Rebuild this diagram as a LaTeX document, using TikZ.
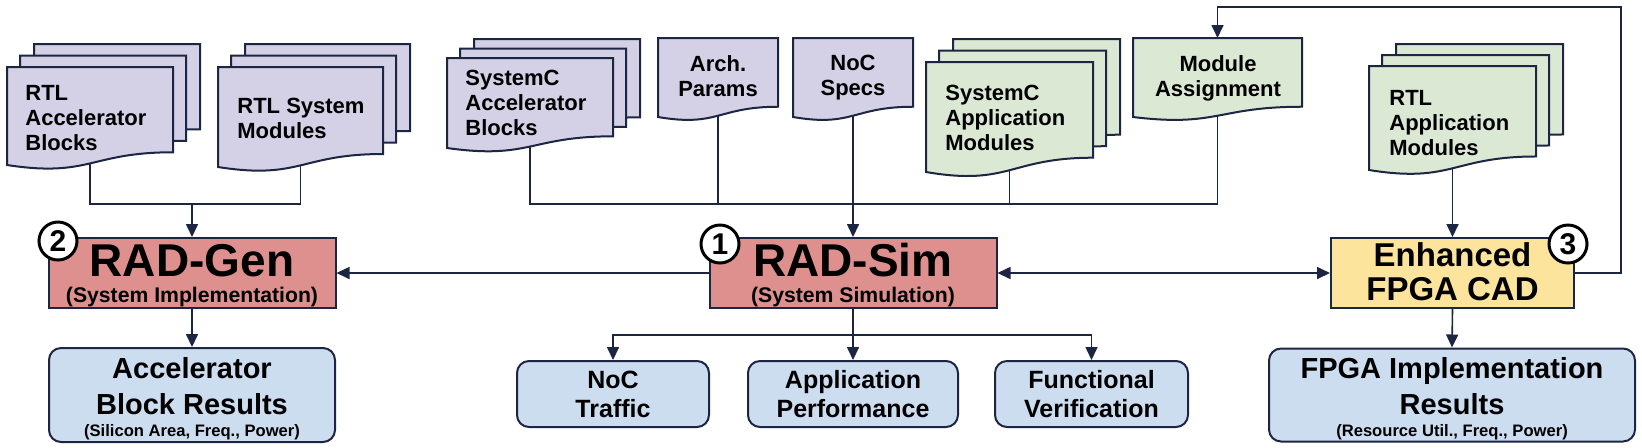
\documentclass[tikz,border=0pt]{standalone}
\usepackage{fontspec}
\setmainfont{Liberation Sans}
\usetikzlibrary{arrows.meta}

% one page: x, y, width, height, fill
\newcommand{\docpage}[5]{%
  \pgfmathsetmacro{\pxl}{#1}
  \pgfmathsetmacro{\pxr}{#1+#3}
  \pgfmathsetmacro{\pxm}{#1+0.5*#3}
  \pgfmathsetmacro{\pyt}{#2}
  \pgfmathsetmacro{\pyr}{#2+0.87*#4}
  \pgfmathsetmacro{\pyc}{#2+1.13*#4}
  \pgfmathsetmacro{\pyl}{#2+#4}
  \draw[docline, fill=#5] (\pxl,\pyt) -- (\pxr,\pyt) -- (\pxr,\pyr)
    .. controls (\pxm,\pyr) and (\pxm,\pyc) .. (\pxl,\pyl) -- cycle;
}
% single document: name, x, y, width, height, fill
\newcommand{\docsingle}[6]{%
  \docpage{#2}{#3}{#4}{#5}{#6}
  \coordinate (#1-in) at (#2+0.5*#4,#3);
  \coordinate (#1-out) at (#2+0.5*#4,#3+0.984*#5);
}
% stack of three documents: name, x, y, width, height, fill, shift up
\newcommand{\docstack}[7]{%
  \docpage{#2+27}{#3-2*#7}{#4}{#5}{#6}
  \docpage{#2+13}{#3-#7}{#4}{#5}{#6}
  \docsingle{#1}{#2}{#3}{#4}{#5}{#6}
}

\begin{document}
\begin{tikzpicture}[x=0.5pt, y=-0.5pt,
  docline/.style={draw=lineNavy, line width=1pt},
  link/.style={draw=lineNavy, line width=0.8pt},
  flow/.style={link, -{Triangle[length=6.5pt,width=6pt]}},
  doctext/.style={inner sep=0, font=\fontsize{11}{12.5}\selectfont\bfseries},
  toolbox/.style={draw=lineNavy, line width=1pt, inner sep=0,
    minimum width=143.5pt, minimum height=35pt},
  tooltitle/.style={inner sep=0, font=\fontsize{23}{23}\selectfont\bfseries},
  toolsub/.style={inner sep=0, font=\fontsize{10.6}{11}\selectfont\bfseries},
  resbox/.style={draw=lineNavy, line width=1pt, rounded corners=6pt,
    fill=resBlue, inner sep=0, align=center,
    font=\fontsize{12.5}{14.5}\selectfont\bfseries},
  restitle/.style={inner sep=0, align=center, font=\fontsize{14.5}{18}\selectfont\bfseries},
  ressub/.style={inner sep=0, font=\fontsize{8.3}{9}\selectfont\bfseries},
  stepnum/.style={circle, draw=black, line width=1.5pt, fill=white,
    minimum size=19pt, inner sep=0, font=\fontsize{15}{15}\selectfont\bfseries}]

% Colours
\definecolor{docPurple}{HTML}{D4D0E6}
\definecolor{docGreen}{HTML}{DAE8D4}
\definecolor{resBlue}{HTML}{CCDDF0}
\definecolor{toolRed}{HTML}{DE908E}
\definecolor{toolYellow}{HTML}{FDE49C}
\definecolor{lineNavy}{HTML}{1C2541}

\useasboundingbox (0,0) rectangle (1642,447);

% Input documents
\docstack{rtlacc}{7}{67}{166}{98}{docPurple}{11.5}
\docstack{rtlsys}{218}{67}{165}{100}{docPurple}{11.5}
\docstack{scacc}{447}{58}{166}{90}{docPurple}{9.5}
\docsingle{arch}{658}{38}{120}{79}{docPurple}
\docsingle{noc}{793}{38}{120}{79}{docPurple}
\docstack{scapp}{926}{62}{167}{110}{docGreen}{11.5}
\docsingle{modasg}{1133}{38}{169}{79}{docGreen}
\docstack{rtlapp}{1369}{66}{167}{104}{docGreen}{11}

\node[doctext, anchor=north west, align=left] (rtlacc) at (25,85) {RTL\\Accelerator\\Blocks};
\node[doctext, anchor=north west, align=left] (rtlsys) at (237,98) {RTL System\\Modules};
\node[doctext, anchor=north west, align=left] (scacc) at (465,70) {SystemC\\Accelerator\\Blocks};
\node[doctext, anchor=north, align=center] (arch) at (718,55) {Arch.\\Params};
\node[doctext, anchor=north, align=center] (noc) at (853,55) {NoC\\Specs};
\node[doctext, anchor=north west, align=left] (scapp) at (945,85) {SystemC\\Application\\Modules};
\node[doctext, anchor=north, align=center] (modasg) at (1218,55) {Module\\Assignment};
\node[doctext, anchor=north west, align=left] (rtlapp) at (1389,90) {RTL\\Application\\Modules};

% Tools
\node[toolbox, fill=toolRed] (radgen) at (192,273) {};
\node[tooltitle, anchor=base] (radgen-t) at (192,276) {RAD-Gen};
\node[toolsub, anchor=base] (radgen-s) at (192,302) {(System Implementation)};

\node[toolbox, fill=toolRed] (radsim) at (853,273) {};
\node[tooltitle, anchor=base] (radsim-t) at (853,276) {RAD-Sim};
\node[toolsub, anchor=base] (radsim-s) at (853,302) {(System Simulation)};

\node[toolbox, fill=toolYellow, minimum width=121.5pt] (fcad) at (1452.5,273) {};
\node[inner sep=0, anchor=north, align=center, font=\fontsize{16.5}{17}\selectfont\bfseries]
  (fcad-t) at (1452.5,242) {Enhanced\\FPGA CAD};

% Results
\node[resbox, minimum width=143pt, minimum height=47pt] (accres) at (192,395) {};
\node[restitle, anchor=north] (accres-t) at (192,357) {Accelerator\\Block Results};
\node[ressub, anchor=base] (accres-s) at (192,436) {(Silicon Area, Freq., Power)};

\node[resbox, minimum width=96pt, minimum height=33pt] (noctraf) at (613,394) {NoC\\Traffic};
\node[resbox, minimum width=105pt, minimum height=33pt] (appperf) at (853,394) {Application\\Performance};
\node[resbox, minimum width=96.5pt, minimum height=33pt] (funcver) at (1091.5,394) {Functional\\Verification};

\node[resbox, minimum width=183pt, minimum height=46.5pt] (fpgares) at (1452,395) {};
\node[restitle, anchor=north] (fpgares-t) at (1452,357) {FPGA Implementation\\Results};
\node[ressub, anchor=base] (fpgares-s) at (1452,436) {(Resource Util., Freq., Power)};

% Connectors
\coordinate (genjoin) at (192,204);
\draw[link] (rtlacc-out) |- (genjoin) -| (rtlsys-out);
\draw[flow] (genjoin) -- (radgen.north);

\coordinate (simjoin) at (853,204);
\draw[link] (scacc-out) |- (simjoin) -| (modasg-out);
\draw[link] (arch-out) -- (arch-out |- simjoin);
\draw[link] (scapp-out) -- (scapp-out |- simjoin);
\draw[flow] (noc-out) -- (noc-out |- radsim.north);

\draw[flow] (rtlapp-out) -- (rtlapp-out |- fcad.north);

\coordinate (loopcorner) at (1621,7);
\draw[flow] (fcad.east) -| (loopcorner) -| (modasg-in);

\draw[flow] (radsim.west) -- (radgen.east);
\draw[link, {Triangle[length=6.5pt,width=6pt]}-{Triangle[length=6.5pt,width=6pt]}] (radsim.east) -- (fcad.west);

\draw[flow] (radgen.south) -- (accres.north);
\draw[flow] (fcad.south) -- (fpgares.north);
\coordinate (simsplit) at (853,335);
\draw[link] (radsim.south) -- (simsplit);
\draw[flow] (simsplit) -| (noctraf.north);
\draw[flow] (simsplit) -- (appperf.north);
\draw[flow] (simsplit) -| (funcver.north);

% Step numbers
\node[stepnum] (step2) at (58,241) {2};
\node[stepnum] (step1) at (720,244) {1};
\node[stepnum] (step3) at (1568,244) {3};

\end{tikzpicture}
\end{document}
